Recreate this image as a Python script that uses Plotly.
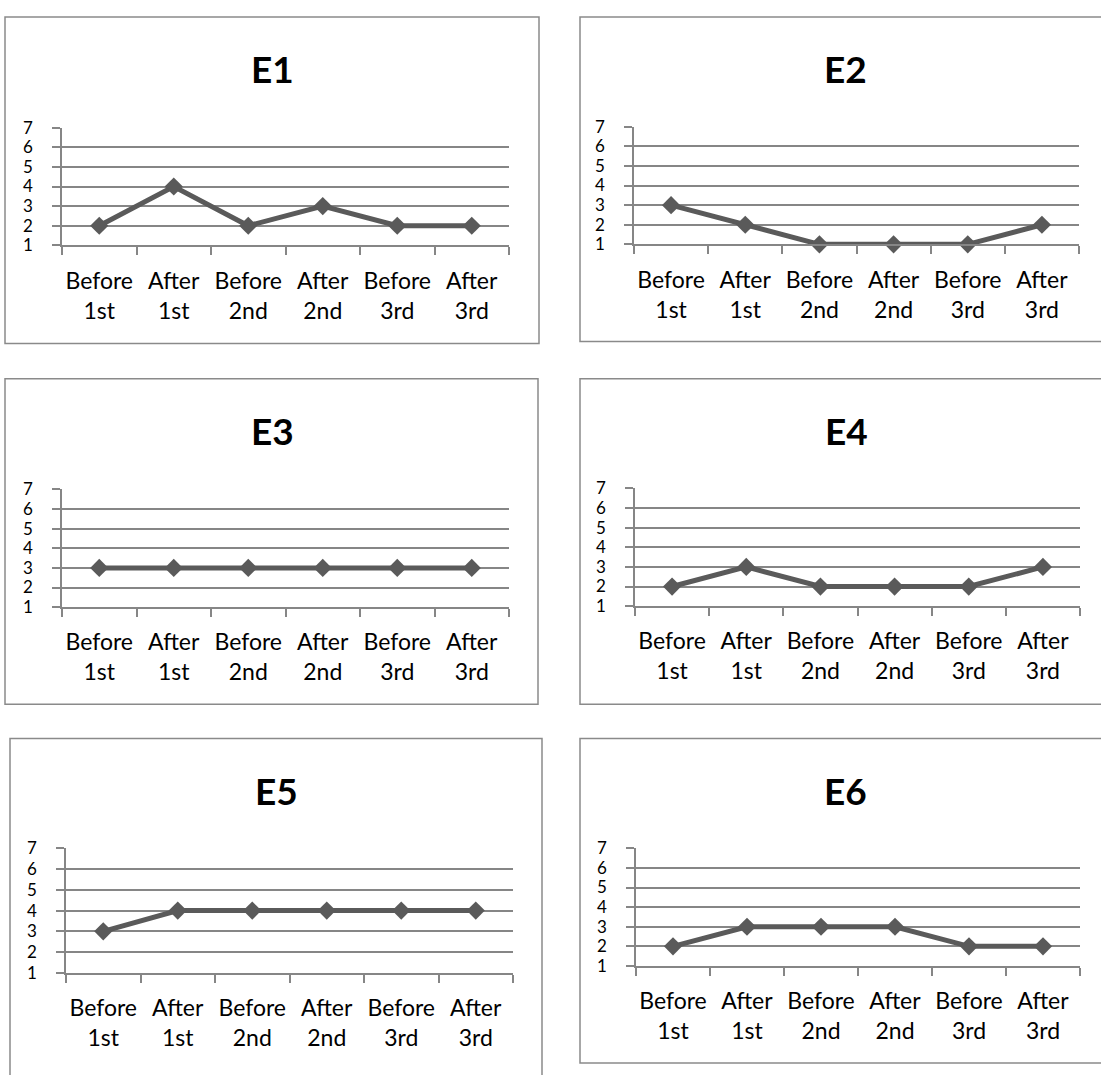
import plotly.graph_objects as go

# Canvas size in pixels
W, H = 1101, 1075

# Categories along the x axis (two-line tick labels)
stages = ["Before<br>1st", "After<br>1st", "Before<br>2nd",
          "After<br>2nd", "Before<br>3rd", "After<br>3rd"]
y_ticks = [1, 2, 3, 4, 5, 6, 7]

# Scores per panel
e1 = [2, 4, 2, 3, 2, 2]
e2 = [3, 2, 1, 1, 1, 2]
e3 = [3, 3, 3, 3, 3, 3]
e4 = [2, 3, 2, 2, 2, 3]
e5 = [3, 4, 4, 4, 4, 4]
e6 = [2, 3, 3, 3, 2, 2]
titles = ["E1", "E2", "E3", "E4", "E5", "E6"]
series = [e1, e2, e3, e4, e5, e6]

# Panel geometry in pixels: plot area (x0, x1, y_top, y_bottom),
# frame (x0, y0, x1, y1) and title centre (x, y)
plot_px = [
    (62, 509, 119, 239),
    (634, 1079, 118, 238),
    (62, 509, 488, 608),
    (635, 1080, 487, 607),
    (66, 513, 854, 981),
    (636, 1080, 854, 974),
]
frame_px = [
    (5, 6, 539, 339),
    (580, 6, 1115, 337),
    (5, 375, 538, 707),
    (580, 375, 1115, 707),
    (10, 742, 542, 1090),
    (580, 742, 1115, 1073),
]
title_px = [(272, 59), (845, 59), (272, 428), (846, 428), (276, 795), (845, 795)]

LINE = "#5a5a5a"
GRID = "#868686"
FRAME = "#8a8a8a"
FONT = "Lato"


def px_x(x):
    return x / W


def px_y(y):
    return 1 - y / H


fig = go.Figure()
layout = dict(
    width=W, height=H,
    margin=dict(l=0, r=0, t=0, b=0),
    paper_bgcolor="white", plot_bgcolor="white",
    showlegend=False,
    shapes=[], annotations=[],
)

for i, (vals, name) in enumerate(zip(series, titles)):
    n = i + 1
    xa = "x" if n == 1 else f"x{n}"
    ya = "y" if n == 1 else f"y{n}"
    fig.add_trace(go.Scatter(
        x=stages, y=vals, xaxis=xa, yaxis=ya,
        mode="lines+markers",
        line=dict(color=LINE, width=5),
        marker=dict(symbol="diamond", size=14, color=LINE),
        cliponaxis=False, hoverinfo="skip",
    ))
    x0, x1, yt, yb = plot_px[i]
    layout[f"xaxis{'' if n == 1 else n}"] = dict(
        domain=[px_x(x0), px_x(x1)], anchor=ya,
        type="category", range=[-0.5, 5.5],
        showgrid=False, zeroline=False,
        showline=True, linecolor=GRID, linewidth=1.5,
        ticks="outside", ticklen=8, tickwidth=1.5, tickcolor=GRID,
        tickson="boundaries", tickangle=0,
        tickfont=dict(family=FONT, size=23, color="black"),
        ticklabelstandoff=14,
        fixedrange=True,
    )
    layout[f"yaxis{'' if n == 1 else n}"] = dict(
        domain=[px_y(yb), px_y(yt)], anchor=xa,
        range=[1, 7], tickmode="array", tickvals=y_ticks,
        showgrid=True, gridcolor=GRID, gridwidth=1.5, zeroline=False,
        showline=True, linecolor=GRID, linewidth=1.5,
        ticks="outside", ticklen=8, tickwidth=1.5, tickcolor=GRID,
        tickfont=dict(family=FONT, size=17, color="black"),
        ticklabelstandoff=16,
        fixedrange=True,
    )
    fx0, fy0, fx1, fy1 = frame_px[i]
    layout["shapes"].append(dict(
        type="rect", xref="paper", yref="paper",
        x0=px_x(fx0), x1=px_x(fx1), y0=px_y(fy1), y1=px_y(fy0),
        line=dict(color=FRAME, width=1.5), fillcolor="rgba(0,0,0,0)",
        layer="below",
    ))
    tx, ty = title_px[i]
    layout["annotations"].append(dict(
        text=f"<b>{name}</b>", xref="paper", yref="paper",
        x=px_x(tx), y=px_y(ty), xanchor="center", yanchor="middle",
        showarrow=False, font=dict(family=FONT, size=37, color="black"),
    ))

fig.update_layout(**layout)
fig.write_html("out.html")
